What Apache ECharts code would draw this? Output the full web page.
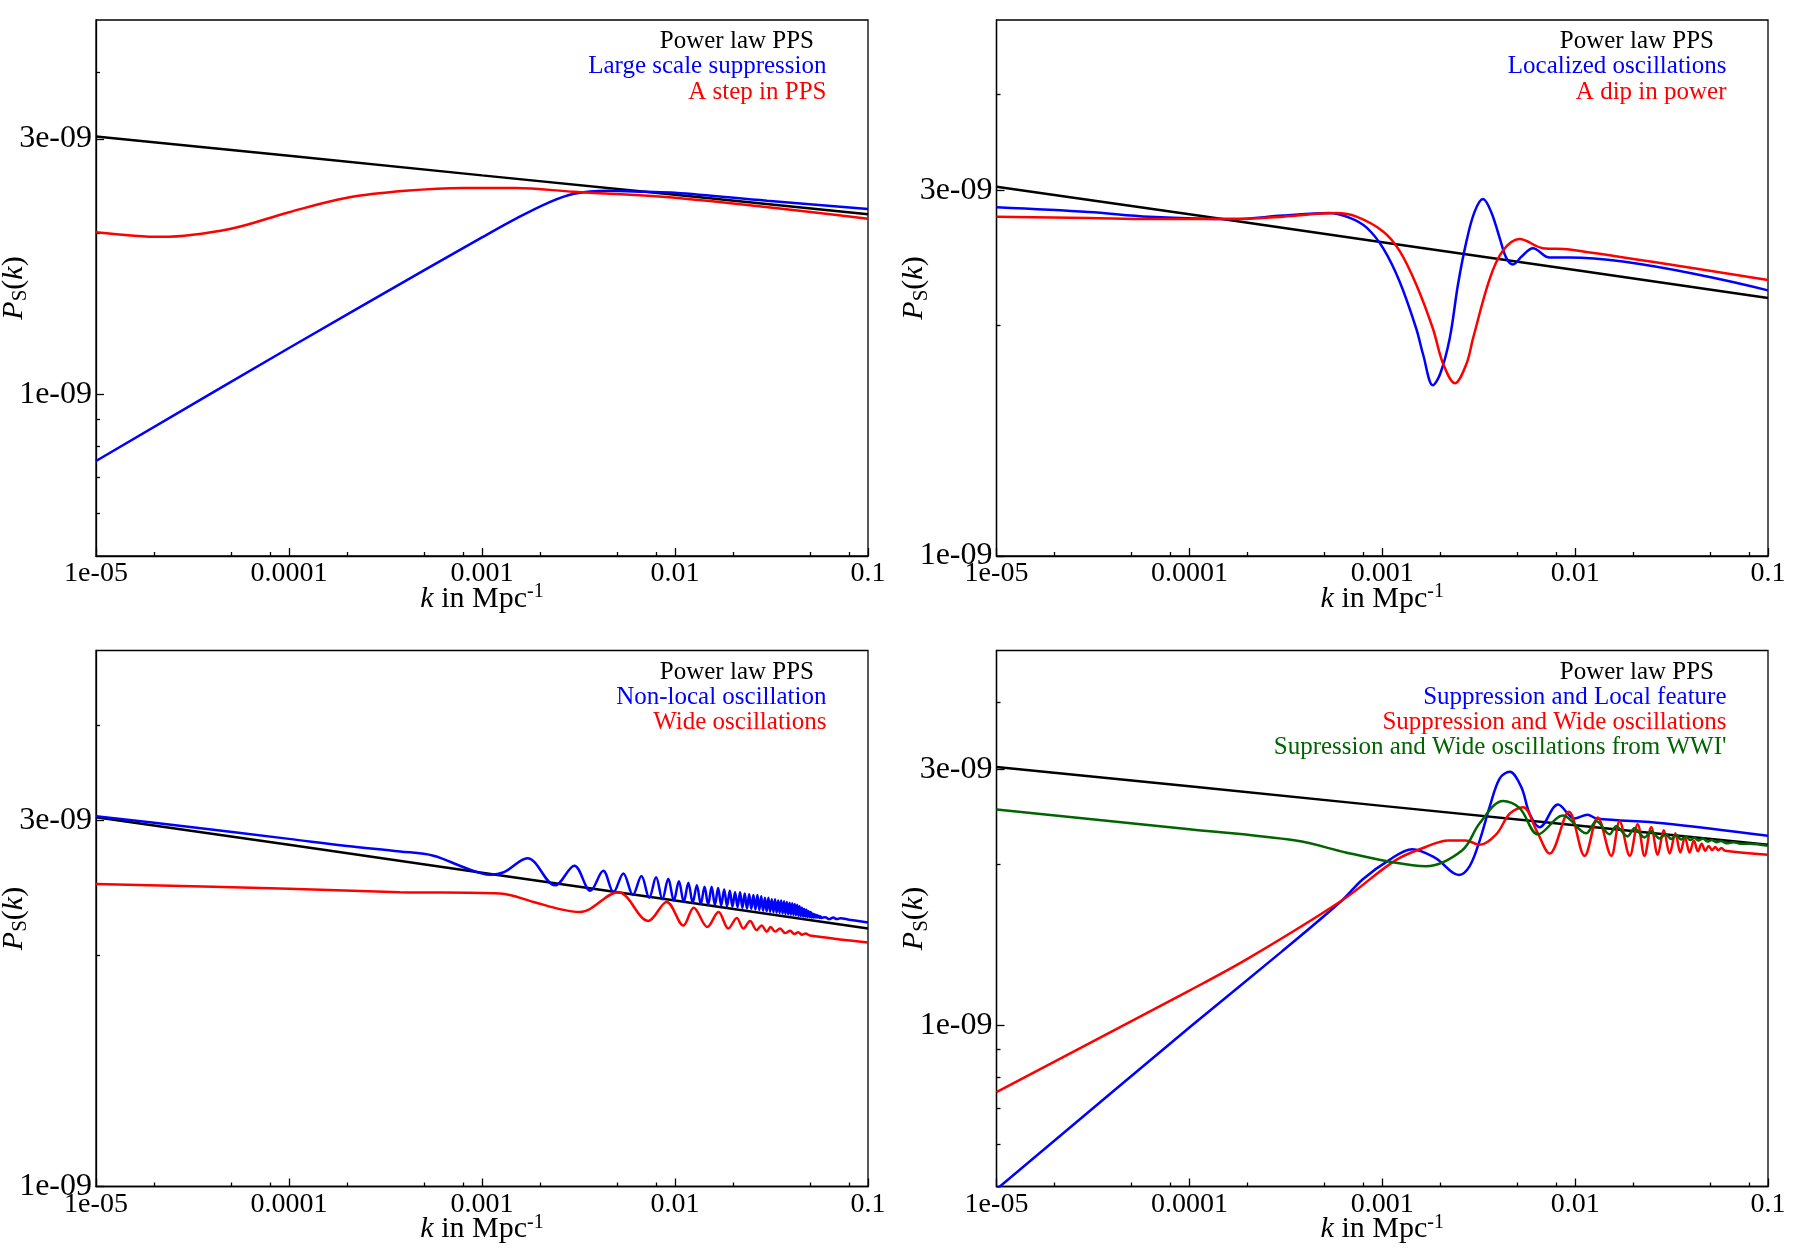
<!DOCTYPE html>
<html>
<head>
<meta charset="utf-8">
<script src="https://cdn.jsdelivr.net/npm/echarts@6/dist/echarts.min.js"></script>
<style>
html,body{margin:0;padding:0;background:#fff;}
#c{width:1800px;height:1260px;}
</style>
</head>
<body>
<div id="c"></div>
<script>
// ---------- axis ticks / labels ----------
const xTickValues = [1e-5, 1e-4, 1e-3, 1e-2, 1e-1];
const xTickLabels = ['1e-05', '0.0001', '0.001', '0.01', '0.1'];
const xMinorTicks = [2e-5, 5e-5, 8e-5, 2e-4, 5e-4, 8e-4, 2e-3, 5e-3, 8e-3, 2e-2, 5e-2, 8e-2];
const yTickValues = [1e-9, 3e-9];
const yTickLabels = ['1e-09', '3e-09'];
const yMinorTicksWide = [6e-10, 7e-10, 8e-10, 9e-10, 2e-9, 4e-9];
const yMinorTicksNarrow = [2e-9, 4e-9];
const UNIT = 1e-9; // P_S values below are in units of 1e-9

// ---------- power law (all panels) ----------
const kPower = [1e-5, 1e-4, 1e-3, 1e-2, 1e-1];
const pPower = [3.03, 2.79, 2.565, 2.36, 2.17];

// ---------- panel 1 ----------
const k1Blue = [1e-5, 1e-4, 5e-4, 1e-3, 1.5e-3, 2.2e-3, 3e-3, 4.5e-3, 7e-3, 1e-2, 3e-2, 1e-1];
const p1Blue = [0.752, 1.222, 1.705, 1.965, 2.13, 2.28, 2.37, 2.40, 2.39, 2.38, 2.30, 2.22];
const k1Red = [1e-5, 2.2e-5, 5e-5, 1e-4, 2e-4, 4e-4, 8e-4, 1.5e-3, 3e-3, 1e-2, 1e-1];
const p1Red = [2.01, 1.97, 2.04, 2.19, 2.33, 2.40, 2.43, 2.43, 2.39, 2.33, 2.13];

// ---------- panel 2 ----------
const k2Blue = [1e-5, 3e-5, 6.2e-5, 1.7e-4, 3.06e-4, 5.3e-4, 6.8e-4, 8.3e-4, 1.01e-3, 1.23e-3, 1.5e-3, 1.63e-3, 1.83e-3, 2.0e-3, 2.24e-3, 2.47e-3, 2.73e-3, 3.01e-3, 3.33e-3, 3.67e-3, 4.06e-3, 4.39e-3, 4.76e-3, 5.3e-3, 6.04e-3, 7.37e-3, 9.4e-3, 1e-1];
const p2Blue = [2.85, 2.81, 2.77, 2.75, 2.78, 2.80, 2.76, 2.68, 2.52, 2.28, 1.98, 1.83, 1.67, 1.73, 1.925, 2.26, 2.57, 2.81, 2.92, 2.81, 2.60, 2.45, 2.40, 2.46, 2.52, 2.45, 2.45, 2.22];
const k2Red = [1e-5, 3e-5, 6.2e-5, 1.7e-4, 3.06e-4, 5.8e-4, 7.35e-4, 1.01e-3, 1.23e-3, 1.5e-3, 1.83e-3, 2.07e-3, 2.38e-3, 2.73e-3, 2.96e-3, 3.61e-3, 4.22e-3, 5.15e-3, 6.8e-3, 9.37e-3, 1e-1];
const p2Red = [2.77, 2.76, 2.75, 2.75, 2.77, 2.80, 2.77, 2.65, 2.50, 2.26, 1.98, 1.78, 1.68, 1.78, 1.925, 2.30, 2.50, 2.59, 2.52, 2.51, 2.29];

// ---------- panel 3 ----------
const k3Blue = [1e-5, 3e-5, 1e-4, 2e-4, 3.76e-4, 5.6e-4, 8.3e-4, 1.1e-3, 1.3e-3, 1.72e-3, 2.39e-3, 3.01e-3, 3.64e-3, 4.25e-3, 4.8e-3, 5.4e-3, 6.05e-3, 6.7e-3, 7.35e-3, 7.98e-3, 8.6e-3, 9.23e-3, 9.86e-3,
  0.01048, 0.01110, 0.01173, 0.01235, 0.01298, 0.01360, 0.01423, 0.01485, 0.01548, 0.01610, 0.01673, 0.01735, 0.01798, 0.01860, 0.01923, 0.01985, 0.02048, 0.02110, 0.02173, 0.02235, 0.02298, 0.02360, 0.02423, 0.02485, 0.02548, 0.02610, 0.02673, 0.02735, 0.02798, 0.02860, 0.02923, 0.02985, 0.03048, 0.03110, 0.03173, 0.03235, 0.03298, 0.03360, 0.03423, 0.03485, 0.03548, 0.03610, 0.03673, 0.03735, 0.03798, 0.03860, 0.03923, 0.03985, 0.04048, 0.04110, 0.04173, 0.04235, 0.04298, 0.04360, 0.04423, 0.04485, 0.04548, 0.04610, 0.04673, 0.04735, 0.04798, 0.04860, 0.04923, 0.04985, 0.05048, 0.05110, 0.05173, 0.05235,
  0.05298, 0.05360, 0.05423, 0.05485, 0.05548, 0.05610, 0.05673, 0.05735, 0.060, 0.063, 0.066, 0.069, 0.072, 0.08, 0.1];
const p3Blue = [3.04, 2.945, 2.84, 2.78, 2.735, 2.70, 2.60, 2.55, 2.57, 2.68, 2.47, 2.62, 2.43, 2.58, 2.42, 2.56, 2.40, 2.54, 2.38, 2.53, 2.37, 2.52, 2.36,
  2.50, 2.35, 2.49, 2.345, 2.47, 2.335, 2.46, 2.33, 2.46, 2.33, 2.45, 2.325, 2.44, 2.32, 2.43, 2.317, 2.42, 2.314, 2.42, 2.309, 2.41, 2.304, 2.405, 2.302, 2.40, 2.298, 2.40, 2.294, 2.39, 2.289, 2.38, 2.285, 2.38, 2.282, 2.37, 2.279, 2.37, 2.276, 2.36, 2.273, 2.36, 2.27, 2.355, 2.267, 2.35, 2.265, 2.345, 2.262, 2.34, 2.26, 2.335, 2.258, 2.33, 2.255, 2.32, 2.252, 2.31, 2.25, 2.30, 2.249, 2.295, 2.247, 2.285, 2.245, 2.28, 2.243, 2.27, 2.241,
  2.265, 2.242, 2.26, 2.242, 2.255, 2.24, 2.252, 2.24, 2.245, 2.232, 2.242, 2.232, 2.238, 2.228, 2.21];
const k3Red = [1e-5, 1e-4, 3.76e-4, 1.24e-3, 1.85e-3, 2.53e-3, 3.22e-3, 5.08e-3, 7.27e-3, 9.06e-3, 1.105e-2, 1.25e-2, 1.47e-2, 1.68e-2, 1.89e-2, 2.09e-2, 2.26e-2, 2.45e-2, 2.65e-2, 2.81e-2, 2.99e-2, 3.13e-2, 3.30e-2, 3.50e-2, 3.72e-2, 3.95e-2, 4.15e-2, 4.35e-2, 4.55e-2, 4.75e-2, 5e-2, 1e-1];
const p3Red = [2.48, 2.445, 2.42, 2.41, 2.35, 2.30, 2.28, 2.42, 2.22, 2.35, 2.19, 2.31, 2.18, 2.28, 2.17, 2.24, 2.17, 2.22, 2.16, 2.19, 2.15, 2.18, 2.15, 2.17, 2.14, 2.155, 2.135, 2.145, 2.13, 2.137, 2.125, 2.08];

// ---------- panel 4 ----------
const k4Blue = [1e-5, 1e-4, 3e-4, 6.2e-4, 7.9e-4, 1.08e-3, 1.43e-3, 1.89e-3, 2.5e-3, 2.84e-3, 3.2e-3, 3.6e-3, 4.06e-3, 4.58e-3, 5.26e-3, 5.81e-3, 6.55e-3, 8.15e-3, 9.94e-3, 1.16e-2, 1.29e-2, 2.85e-2, 1e-1];
const p4Blue = [0.494, 0.99, 1.37, 1.71, 1.87, 2.03, 2.13, 2.05, 1.907, 1.98, 2.21, 2.55, 2.885, 2.97, 2.78, 2.48, 2.34, 2.58, 2.43, 2.47, 2.43, 2.38, 2.255];
const k4Red = [1e-5, 1e-4, 2.04e-4, 6.2e-4, 1.17e-3, 1.68e-3, 2.2e-3, 2.7e-3, 3.2e-3, 3.9e-3, 4.58e-3, 5.37e-3, 6.3e-3, 7.38e-3, 9.29e-3, 1.12e-2, 1.31e-2, 1.54e-2, 1.70e-2, 1.92e-2, 2.11e-2, 2.29e-2, 2.48e-2, 2.68e-2, 2.88e-2, 3.09e-2, 3.31e-2, 3.51e-2, 3.71e-2, 3.92e-2, 4.13e-2, 4.33e-2, 4.53e-2, 4.73e-2, 4.93e-2, 5.13e-2, 5.33e-2, 5.53e-2, 5.73e-2, 6e-2, 1e-1];
const p4Red = [0.75, 1.16, 1.335, 1.71, 2.03, 2.15, 2.21, 2.21, 2.17, 2.27, 2.48, 2.55, 2.31, 2.09, 2.50, 2.07, 2.44, 2.07, 2.40, 2.07, 2.37, 2.07, 2.34, 2.08, 2.31, 2.09, 2.28, 2.10, 2.24, 2.10, 2.21, 2.11, 2.18, 2.115, 2.16, 2.12, 2.15, 2.12, 2.14, 2.115, 2.08];
const k4Green = [1e-5, 1e-4, 3.56e-4, 6.47e-4, 1.08e-3, 1.68e-3, 2.6e-3, 3.2e-3, 4.23e-3, 5.16e-3, 6.42e-3, 8.65e-3, 1.14e-2, 1.29e-2, 1.51e-2, 1.63e-2, 1.87e-2, 2.03e-2, 2.29e-2, 2.48e-2, 2.74e-2, 2.95e-2, 3.15e-2, 3.35e-2, 3.55e-2, 3.75e-2, 3.95e-2, 4.15e-2, 4.35e-2, 4.6e-2, 4.85e-2, 5.1e-2, 5.4e-2, 5.7e-2, 6.1e-2, 6.6e-2, 7.2e-2, 8e-2, 1e-1];
const p4Green = [2.525, 2.32, 2.21, 2.10, 2.02, 1.98, 2.12, 2.38, 2.62, 2.54, 2.27, 2.46, 2.28, 2.40, 2.27, 2.35, 2.25, 2.33, 2.24, 2.30, 2.23, 2.27, 2.225, 2.26, 2.22, 2.25, 2.215, 2.24, 2.21, 2.23, 2.20, 2.215, 2.195, 2.205, 2.185, 2.195, 2.18, 2.18, 2.16];

// ---------- legends ----------
const legend1 = ['Power law PPS', 'Large scale suppression', 'A step in PPS'];
const legend2 = ['Power law PPS', 'Localized oscillations', 'A dip in power'];
const legend3 = ['Power law PPS', 'Non-local oscillation', 'Wide oscillations'];
const legend4 = ['Power law PPS', 'Suppression and Local feature', 'Suppression and Wide oscillations', "Supression and Wide oscillations from WWI'"];

// ---------- styling ----------
const BLACK = '#000000', BLUE = '#0000ff', RED = '#ff0000', GREEN = '#006400';
const FONT = 'Liberation Serif';
const legendColors = [BLACK, BLUE, RED, GREEN];

const panels = [
  { grid: { left: 96, top: 20, width: 772, height: 536 }, yMin: 5e-10, yMinor: yMinorTicksWide, legend: legend1,
    lines: [[kPower, pPower, BLACK, false], [k1Blue, p1Blue, BLUE, true], [k1Red, p1Red, RED, true]] },
  { grid: { left: 996.5, top: 20, width: 771.5, height: 536 }, yMin: 1e-9, yMinor: yMinorTicksNarrow, legend: legend2,
    lines: [[kPower, pPower, BLACK, false], [k2Blue, p2Blue, BLUE, true], [k2Red, p2Red, RED, true]] },
  { grid: { left: 96, top: 650.5, width: 772, height: 536 }, yMin: 1e-9, yMinor: yMinorTicksNarrow, legend: legend3,
    lines: [[kPower, pPower, BLACK, false], [k3Blue, p3Blue, BLUE, true], [k3Red, p3Red, RED, true]] },
  { grid: { left: 996.5, top: 650.5, width: 771.5, height: 536 }, yMin: 5e-10, yMinor: yMinorTicksWide, legend: legend4,
    lines: [[kPower, pPower, BLACK, false], [k4Blue, p4Blue, BLUE, true], [k4Red, p4Red, RED, true], [k4Green, p4Green, GREEN, true]] }
];

function lookup(values, labels) {
  return function (v) {
    for (let i = 0; i < values.length; i++) {
      if (Math.abs(Math.log10(v) - Math.log10(values[i])) < 1e-6) return labels[i];
    }
    return '';
  };
}
const fmtX = lookup(xTickValues, xTickLabels);
const fmtY = lookup(yTickValues, yTickLabels);

const axisLineStyle = { color: '#000', width: 1.3 };
const option = {
  animation: false,
  backgroundColor: '#ffffff',
  grid: [], xAxis: [], yAxis: [], series: [], graphic: []
};

panels.forEach(function (pn, i) {
  option.grid.push(Object.assign({}, pn.grid, {
    show: true, borderColor: '#000', borderWidth: 1.3, backgroundColor: 'transparent',
    containLabel: false, outerBoundsMode: 'none'
  }));
  // major x axis
  option.xAxis.push({
    type: 'log', logBase: 10, gridIndex: i, min: 1e-5, max: 0.1, position: 'bottom',
    axisLine: { show: true, onZero: false, lineStyle: axisLineStyle },
    axisTick: { show: true, inside: true, length: 8, customValues: xTickValues, lineStyle: axisLineStyle },
    axisLabel: { show: true, customValues: xTickValues, formatter: fmtX, margin: 4,
      fontFamily: FONT, fontSize: 28, color: '#000' },
    splitLine: { show: false }, minorTick: { show: false }, minorSplitLine: { show: false },
    name: '{i|k}{n| in Mpc}{sup|-1}', nameLocation: 'middle', nameGap: 26, nameMoveOverlap: false,
    nameTextStyle: {
      fontFamily: FONT, fontSize: 30, color: '#000',
      rich: {
        i: { fontFamily: FONT, fontSize: 30, fontStyle: 'italic', color: '#000', lineHeight: 34 },
        n: { fontFamily: FONT, fontSize: 30, color: '#000', lineHeight: 34 },
        sup: { fontFamily: FONT, fontSize: 20, color: '#000', lineHeight: 34, verticalAlign: 'top' }
      }
    }
  });
  // minor x axis
  option.xAxis.push({
    type: 'log', logBase: 10, gridIndex: i, min: 1e-5, max: 0.1, position: 'bottom',
    axisLine: { show: false, onZero: false },
    axisTick: { show: true, inside: true, length: 4, customValues: xMinorTicks, lineStyle: axisLineStyle },
    axisLabel: { show: false }, splitLine: { show: false }
  });
  // major y axis
  option.yAxis.push({
    type: 'log', logBase: 10, gridIndex: i, min: pn.yMin, max: 5e-9, position: 'left',
    axisLine: { show: true, onZero: false, lineStyle: axisLineStyle },
    axisTick: { show: true, inside: true, length: 8, customValues: yTickValues, lineStyle: axisLineStyle },
    axisLabel: { show: true, customValues: yTickValues, formatter: fmtY, margin: 4,
      fontFamily: FONT, fontSize: 32, color: '#000' },
    splitLine: { show: false }, minorTick: { show: false }, minorSplitLine: { show: false },
    name: '{i|P}{s|S}{n|(}{i|k}{n|)}', nameLocation: 'middle', nameRotate: 90, nameGap: 65, nameMoveOverlap: false,
    nameTextStyle: {
      fontFamily: FONT, fontSize: 30, color: '#000',
      rich: {
        i: { fontFamily: FONT, fontSize: 30, fontStyle: 'italic', color: '#000', lineHeight: 34 },
        n: { fontFamily: FONT, fontSize: 30, color: '#000', lineHeight: 34 },
        s: { fontFamily: FONT, fontSize: 21, color: '#000', lineHeight: 34, verticalAlign: 'bottom' }
      }
    }
  });
  // minor y axis
  option.yAxis.push({
    type: 'log', logBase: 10, gridIndex: i, min: pn.yMin, max: 5e-9, position: 'left',
    axisLine: { show: false, onZero: false },
    axisTick: { show: true, inside: true, length: 4, customValues: pn.yMinor, lineStyle: axisLineStyle },
    axisLabel: { show: false }, splitLine: { show: false }
  });

  pn.lines.forEach(function (ln) {
    const ks = ln[0], ps = ln[1];
    option.series.push({
      type: 'line', xAxisIndex: 2 * i, yAxisIndex: 2 * i,
      data: ks.map(function (k, j) { return [k, ps[j] * UNIT]; }),
      showSymbol: false, symbol: 'none', smooth: ln[3] ? 0.35 : false, clip: true,
      lineStyle: { color: ln[2], width: 2.5 }, itemStyle: { color: ln[2] },
      silent: true
    });
  });

  const gRight = pn.grid.left + pn.grid.width;
  pn.legend.forEach(function (txt, r) {
    option.graphic.push({
      type: 'text', silent: true,
      x: gRight - (r === 0 ? 54 : 41.5),
      y: pn.grid.top + 21.5 + 25.3 * r,
      style: {
        text: txt, fill: legendColors[r],
        font: '25px "Liberation Serif"',
        textAlign: 'right', textVerticalAlign: 'middle'
      }
    });
  });
});

const chart = echarts.init(document.getElementById('c'), null, { renderer: 'canvas', width: 1800, height: 1260 });
chart.setOption(option);
</script>
</body>
</html>
